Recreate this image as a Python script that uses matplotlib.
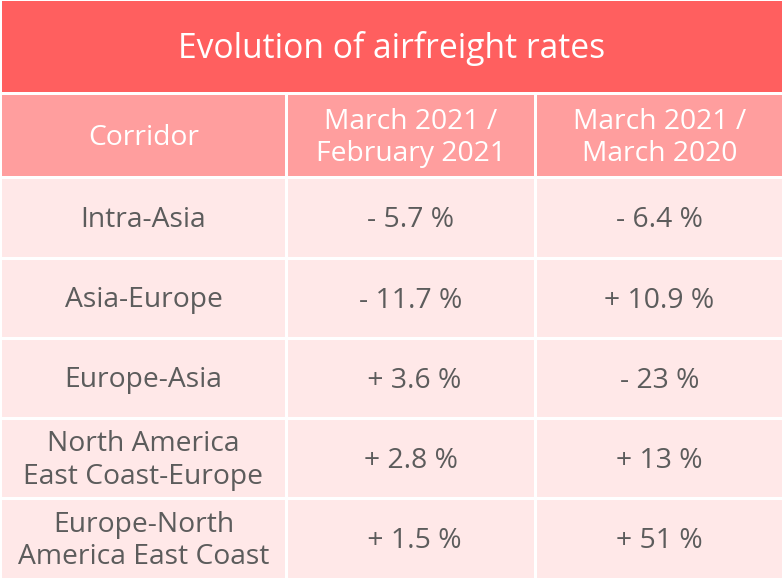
import matplotlib.pyplot as plt
from matplotlib.patches import Rectangle

# Table contents
title = "Evolution of airfreight rates"
headers = ["Corridor", "March 2021 /\nFebruary 2021", "March 2021 /\nMarch 2020"]
corridors = ["Intra-Asia", "Asia-Europe", "Europe-Asia",
             "North America\nEast Coast-Europe", "Europe-North\nAmerica East Coast"]
mar21_vs_feb21 = ["- 5.7 %", "- 11.7 %", " + 3.6 %", "+ 2.8 %", " + 1.5 %"]
mar21_vs_mar20 = ["- 6.4 %", "+ 10.9 %", "- 23 %", "+ 13 %", "+ 51 %"]

plt.rcParams['font.family'] = ['Open Sans', 'DejaVu Sans']

fig = plt.figure(figsize=(7.84, 5.82), dpi=100)
ax = fig.add_axes([0, 0, 1, 1])
ax.set_xlim(0, 784)
ax.set_ylim(582, 0)
ax.axis('off')

title_col = '#ff5f5f'
head_col = '#ff9e9e'
body_col = '#ffe8e8'
text_col = '#5c5c5c'

# column edges (pixels)
cols = [(2, 285), (288, 534), (537, 782)]
rows = [(179, 257), (260, 337), (340, 417), (420, 497), (500, 578)]

# title band
ax.add_patch(Rectangle((2, 1), 780, 91, color=title_col, lw=0))
ax.text(392, 49, title, ha='center', va='center', color='white', fontsize=24.2)

# header row
for (x0, x1), h in zip(cols, headers):
    ax.add_patch(Rectangle((x0, 95), x1 - x0, 81, color=head_col, lw=0))
    ax.text((x0 + x1) / 2, 138, h, ha='center', va='center', color='white',
            fontsize=20.3, linespacing=1.2)

# body rows
for (y0, y1), c, a, b in zip(rows, corridors, mar21_vs_feb21, mar21_vs_mar20):
    for (x0, x1), s in zip(cols, [c, a, b]):
        ax.add_patch(Rectangle((x0, y0), x1 - x0, y1 - y0, color=body_col, lw=0))
        ax.text((x0 + x1) / 2, (y0 + y1) / 2 + 2, s, ha='center', va='center',
                color=text_col, fontsize=20.3, linespacing=1.2)

fig.savefig('out.png', dpi=100, facecolor='white')
